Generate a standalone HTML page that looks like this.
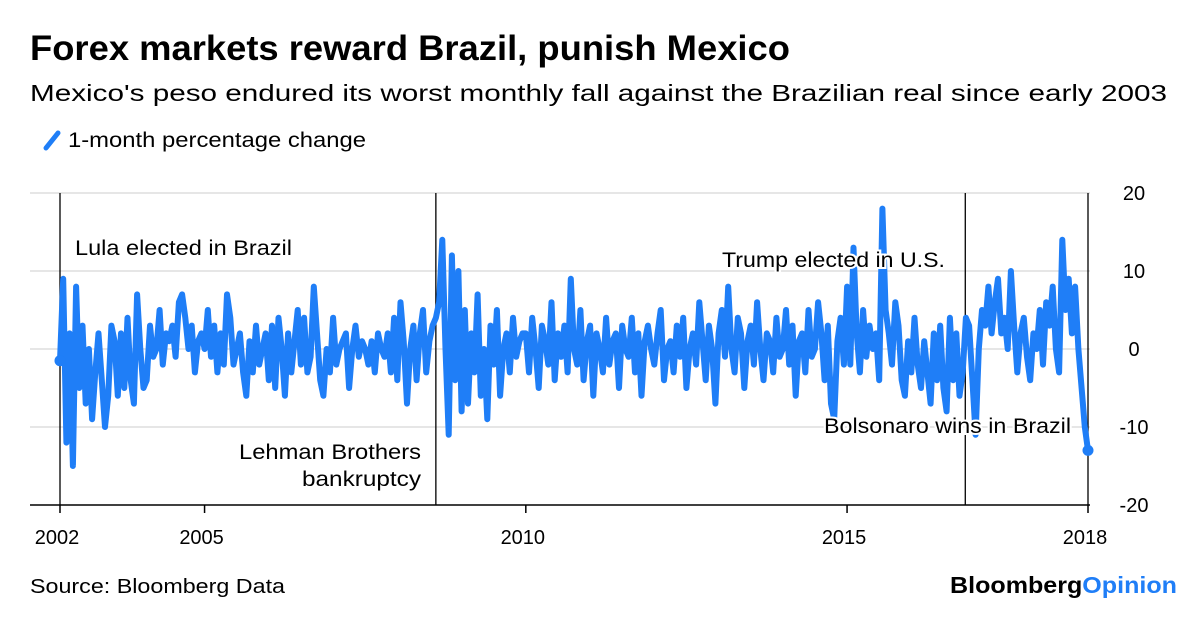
<!DOCTYPE html>
<html><head><meta charset="utf-8">
<style>
body{margin:0;background:#fff;width:1200px;height:612px;overflow:hidden;font-family:"Liberation Sans",Arial,sans-serif}
</style></head>
<body>
<svg id="chart" width="1200" height="612" font-family="Liberation Sans, Arial, sans-serif">
  <text x="30" y="60" font-size="35" font-weight="bold" fill="#000" textLength="760" lengthAdjust="spacingAndGlyphs">Forex markets reward Brazil, punish Mexico</text>
  <text x="30" y="101" font-size="23" fill="#000" textLength="1137" lengthAdjust="spacingAndGlyphs">Mexico's peso endured its worst monthly fall against the Brazilian real since early 2003</text>
  <g>
    <line x1="46" y1="148" x2="58" y2="133" stroke="#1f7ef7" stroke-width="5" stroke-linecap="round"/>
    <text x="68" y="147" font-size="21" fill="#000" textLength="298" lengthAdjust="spacingAndGlyphs">1-month percentage change</text>
  </g>
  <g id="grid"></g>
  <g id="events"></g>
  <g id="series"></g>
  <g id="annots"></g>
  <g id="axes"></g>
  <text x="30" y="593" font-size="20" fill="#000" textLength="255" lengthAdjust="spacingAndGlyphs">Source: Bloomberg Data</text>
  <text x="950" y="593" font-size="23" font-weight="bold" fill="#000" textLength="227" lengthAdjust="spacingAndGlyphs">Bloomberg<tspan fill="#1f7ef7">Opinion</tspan></text>
</svg>
<script>
const startYear = 2002.75;
const stepYears = 0.05;
const pctChange = [
-1.5,9,-12,2,-15,8,-5,3,-7,0,-9,-3,2,-4,-10,-6,3,1,-6,2,-5,4,-4,-7,7,0,-5,-4,3,-1,0,5,-2,2,1,3,-1,6,7,4,0,3,-3,1,2,0,5,
-1,3,-3,2,-2,7,4,-2,0,2,-3,-6,1,-3,3,-2,0,2,-4,3,-5,4,0,-6,2,-3,1,5,-2,4,-3,-1,8,2,-4,-6,0,-3,4,-2,0,1,2,-5,0,3,-1,1,0,-2,1,-3,2,0,-1,2,-3,4,-4,6,1,-7,0,3,-4,2,5,-3,1,3,4,6,
14,0,-11,12,-4,10,-8,5,-7,2,-3,7,-6,0,-9,3,-2,5,-6,0,2,-3,4,-1,1,2,
2,-3,4,0,-5,3,1,-2,6,-4,2,-1,3,-3,9,0,-2,5,-4,1,3,-6,2,0,-3,4,-2,1,2,-5,3,0,-1,4,-3,2,-6,1,3,0,-2,2,5,-4,0,1,-3,3,-1,4,-5,0,2,-2,6,1,-4,3,0,-7,2,5,-1,8,0,-3,4,2,-5,1,3,-2,6,0,-4,2,1,-3,4,-1,0,5,-2,3,-6,1,2,-3,5,-1,0,6,2,-4,3,-7,-9,1,4,-2,
8,-2,13,2,-3,5,-1,3,0,2,-4,18,5,2,-2,6,3,-4,-6,1,-3,4,-2,-5,1,-3,-7,2,-4,3,-5,-8,4,-4,2,-6,-3,4,
3,-4,-11,0,5,3,8,2,6,9,2,4,0,10,3,-3,2,4,-1,-4,2,0,5,-2,6,3,8,0,-3,14,5,9,2,8,0,-5,-10,-13
];
const yTicks = [20,10,0,-10,-20];
const xTickYears = [2005,2010,2015];
const eventYears = [2002.75,2008.6,2016.84];
const eventLabels = ["Lula elected in Brazil","Lehman Brothers|bankruptcy","Trump elected in U.S.","Bolsonaro wins in Brazil"];

const NS="http://www.w3.org/2000/svg";
const endYear=startYear+(pctChange.length-1)*stepYears;
function x(t){return 60+(t-startYear)/(endYear-startYear)*1028;}
function y(v){return 349-v*7.8;}
function mk(tag,attrs,parent){const e=document.createElementNS(NS,tag);for(const k in attrs)e.setAttribute(k,attrs[k]);parent.appendChild(e);return e;}
const grid=document.getElementById('grid'),axes=document.getElementById('axes'),ser=document.getElementById('series'),ev=document.getElementById('events'),an=document.getElementById('annots');
yTicks.forEach(v=>{
  if(v>-20){const g=mk('line',{x1:30,x2:1090,y1:y(v),y2:y(v),stroke:'#e6e6e6','stroke-width':2},grid);
  
  }
  const t=mk('text',{x:1134,y:y(v)+7,'font-size':20,'text-anchor':'middle'},axes);t.textContent=v;
  
  
});
const base=mk('line',{x1:30,x2:1090,y1:505,y2:505,stroke:'#000','stroke-width':1.5},axes);


const xt=[[startYear,'2002'],[2005,'2005'],[2010,'2010'],[2015,'2015'],[endYear,'2018']];
xt.forEach(d=>{
  const l=mk('line',{x1:x(d[0]),x2:x(d[0]),y1:505,y2:513,stroke:'#000','stroke-width':1.5},axes);
  
  
  const t=mk('text',{x:x(d[0])-3,y:544,'font-size':20,'text-anchor':'middle'},axes);t.textContent=d[1];
  
  
});
eventYears.concat([endYear]).forEach((e,i)=>{
  const l=mk('line',{x1:x(e),x2:x(e),y1:193,y2:505,stroke:'#000','stroke-width':1.3},ev);
  
  
});
let d='';
pctChange.forEach((v,i)=>{const t=startYear+i*stepYears;d+=(i?'L':'M')+x(t).toFixed(1)+','+y(v).toFixed(1);});
const p=mk('path',{d:d,fill:'none',stroke:'#1f7ef7','stroke-width':6,'stroke-linejoin':'round','stroke-linecap':'round'},ser);


[[startYear,pctChange[0]],[endYear,pctChange[pctChange.length-1]]].forEach(q=>{
  const c=mk('circle',{cx:x(q[0]),cy:y(q[1]),r:5.5,fill:'#1f7ef7'},ser);
  
  
});
const pos=[[75,255,'start',217],[421,459,'end',182],[945,267,'end',223],[1071,433,'end',247]];
eventLabels.forEach((s,i)=>{
  s.split('|').forEach((line,j)=>{
    const w = j===0 ? pos[i][3] : 119;
    const t=mk('text',{x:pos[i][0],y:pos[i][1]+j*27,'font-size':21,'text-anchor':pos[i][2],stroke:'#fff','stroke-width':4,'paint-order':'stroke',fill:'#000',textLength:w,lengthAdjust:'spacingAndGlyphs'},an);
    t.textContent=line;
    
    
  });
});
</script>
</body></html>
